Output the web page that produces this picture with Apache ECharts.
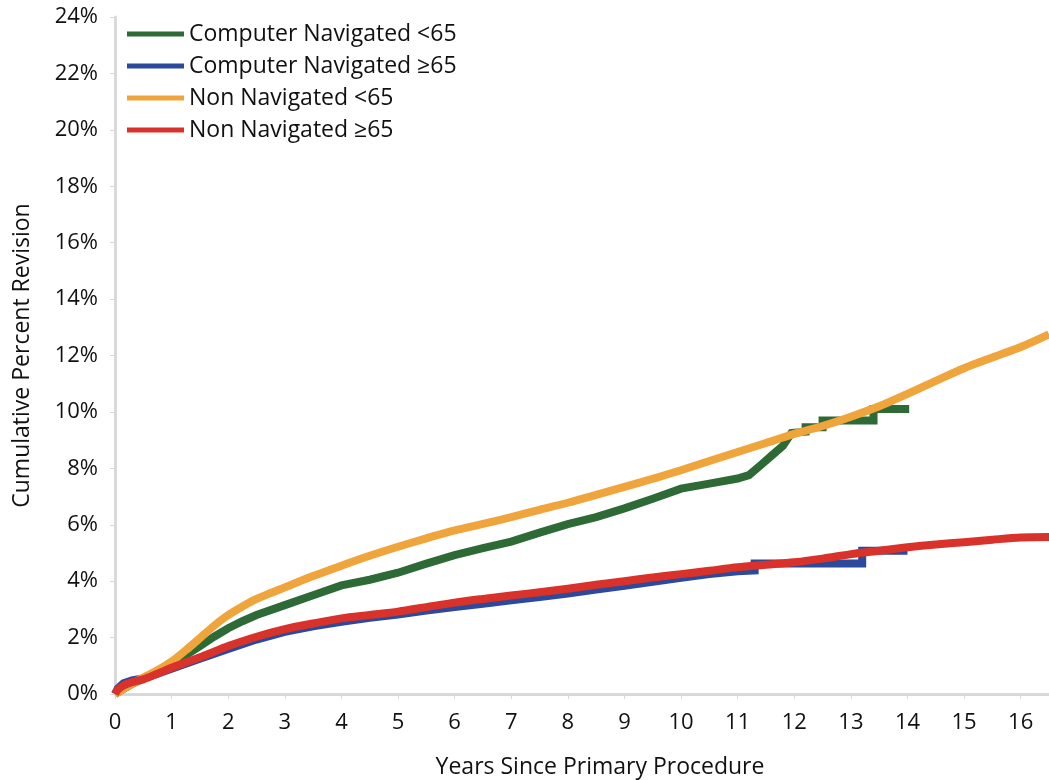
<!DOCTYPE html>
<html>
<head>
<meta charset="utf-8">
<script src="https://cdn.jsdelivr.net/npm/echarts@6/dist/echarts.min.js"></script>
<style>
html,body{margin:0;padding:0;background:#fff;}
#chart{width:1049px;height:780px;}
</style>
</head>
<body>
<div id="chart"></div>
<script>
// Series names (legend)
const seriesNames = ['Computer Navigated <65', 'Computer Navigated \u226565', 'Non Navigated <65', 'Non Navigated \u226565'];
const seriesColors = ['#2d6a35', '#2c4a9c', '#f0a53c', '#d9322a'];

// [years, cumulative percent revision]
const compNavUnder65 = [
  [0,0],[0.1,0.12],[0.25,0.3],[0.5,0.55],[0.75,0.8],[1,1.05],[1.25,1.38],[1.5,1.7],[1.75,2.03],
  [2,2.33],[2.25,2.58],[2.5,2.8],[3,3.15],[3.5,3.5],[4,3.85],[4.5,4.05],[5,4.3],[5.5,4.62],[6,4.92],
  [6.5,5.17],[7,5.4],[7.5,5.72],[8,6.02],[8.5,6.27],[9,6.58],[9.5,6.92],[10,7.28],[10.5,7.46],
  [11,7.64],[11.2,7.76],[11.4,8.1],[11.6,8.45],[11.8,8.8],[11.95,9.25],[12.2,9.3],[12.2,9.46],
  [12.5,9.46],[12.5,9.7],[13.4,9.7],[13.4,10.1],[14.03,10.1]
];
const compNavOver65 = [
  [0,0],[0.05,0.2],[0.15,0.38],[0.3,0.48],[0.5,0.55],[0.75,0.72],[1,0.9],[1.5,1.25],[2,1.6],
  [2.5,1.93],[3,2.2],[3.5,2.4],[4,2.56],[4.5,2.7],[5,2.82],[5.5,2.96],[6,3.08],[6.5,3.2],
  [7,3.32],[7.5,3.44],[8,3.56],[8.5,3.7],[9,3.84],[9.5,3.98],[10,4.12],[10.5,4.25],[11,4.35],
  [11.3,4.38],[11.3,4.63],[13.2,4.63],[13.2,5.08],[14,5.08]
];
const nonNavUnder65 = [
  [0,0],[0.1,0.12],[0.25,0.3],[0.5,0.58],[0.75,0.84],[1,1.15],[1.25,1.55],[1.5,1.98],[1.75,2.42],
  [2,2.8],[2.25,3.1],[2.5,3.37],[2.75,3.58],[3,3.78],[3.5,4.18],[4,4.55],[4.5,4.9],[5,5.22],
  [5.5,5.52],[6,5.8],[6.5,6.03],[7,6.27],[7.5,6.53],[8,6.78],[8.5,7.06],[9,7.34],[9.5,7.63],
  [10,7.93],[10.5,8.26],[11,8.58],[11.5,8.9],[12,9.22],[12.5,9.5],[13,9.83],[13.5,10.2],
  [14,10.64],[14.5,11.1],[15,11.55],[15.5,11.93],[16,12.3],[16.5,12.75]
];
const nonNavOver65 = [
  [0,0],[0.05,0.15],[0.15,0.3],[0.3,0.42],[0.5,0.52],[0.75,0.72],[1,0.93],[1.25,1.12],[1.5,1.3],
  [1.75,1.5],[2,1.7],[2.5,2.03],[3,2.3],[3.5,2.5],[4,2.68],[4.5,2.8],[5,2.92],[5.5,3.08],
  [6,3.24],[6.5,3.37],[7,3.49],[7.5,3.61],[8,3.73],[8.5,3.87],[9,4.0],[9.5,4.13],[10,4.25],
  [10.5,4.37],[11,4.49],[11.5,4.58],[12,4.67],[12.5,4.8],[13,4.96],[13.5,5.08],[14,5.2],
  [14.5,5.3],[15,5.38],[15.5,5.47],[16,5.55],[16.5,5.57]
];

const xMin = 0, xMax = 16.5, xStep = 1;
const yMin = 0, yMax = 24, yStep = 2;

const FONT = '"Open Sans", "Noto Sans", sans-serif';
const chart = echarts.init(document.getElementById('chart'), null, {renderer: 'canvas'});

function mkSeries(idx, data, z, smooth, join) {
  return {
    name: seriesNames[idx],
    type: 'line',
    data: data,
    showSymbol: false,
    symbol: 'none',
    smooth: smooth,
    z: z,
    lineStyle: {width: 8, color: seriesColors[idx], cap: 'butt', join: join},
    itemStyle: {color: seriesColors[idx]},
    animation: false
  };
}

chart.setOption({
  animation: false,
  backgroundColor: '#ffffff',
  textStyle: {fontFamily: FONT},
  grid: {left: 115, right: 0, top: 17, bottom: 86, containLabel: false, outerBoundsMode: 'none'},
  legend: {
    orient: 'vertical',
    left: 122,
    top: 17,
    itemWidth: 57,
    itemHeight: 5,
    itemGap: 8,
    icon: 'rect',
    data: seriesNames,
    textStyle: {fontFamily: FONT, fontSize: 23, color: '#111', lineHeight: 24}
  },
  xAxis: {
    type: 'value',
    min: xMin, max: xMax, interval: xStep,
    name: 'Years Since Primary Procedure',
    nameLocation: 'middle',
    nameGap: 62,
    nameTextStyle: {fontFamily: FONT, fontSize: 23, color: '#111', padding: [0,0,0,36]},
    axisLine: {show: true, lineStyle: {color: '#d9d9d9', width: 3}},
    axisTick: {show: true, length: 5, lineStyle: {color: '#d9d9d9', width: 1}},
    axisLabel: {
      fontFamily: FONT, fontSize: 22, color: '#111', margin: 18,
      showMaxLabel: false,
      formatter: v => (Number.isInteger(v) ? String(v) : '')
    },
    splitLine: {show: false}
  },
  yAxis: {
    type: 'value',
    min: yMin, max: yMax, interval: yStep,
    name: 'Cumulative Percent Revision',
    nameLocation: 'middle',
    nameGap: 81,
    nameTextStyle: {fontFamily: FONT, fontSize: 23, color: '#111'},
    axisLine: {show: true, lineStyle: {color: '#d9d9d9', width: 3}},
    axisTick: {show: true, length: 5, lineStyle: {color: '#d9d9d9', width: 1}},
    axisLabel: {fontFamily: FONT, fontSize: 22, color: '#111', margin: 17, formatter: '{value}%'},
    splitLine: {show: false}
  },
  series: [
    mkSeries(1, compNavOver65, 2, false, 'miter'),
    mkSeries(0, compNavUnder65, 3, false, 'miter'),
    mkSeries(2, nonNavUnder65, 4, 0.3, 'round'),
    mkSeries(3, nonNavOver65, 5, 0.3, 'round')
  ]
});
</script>
</body>
</html>
